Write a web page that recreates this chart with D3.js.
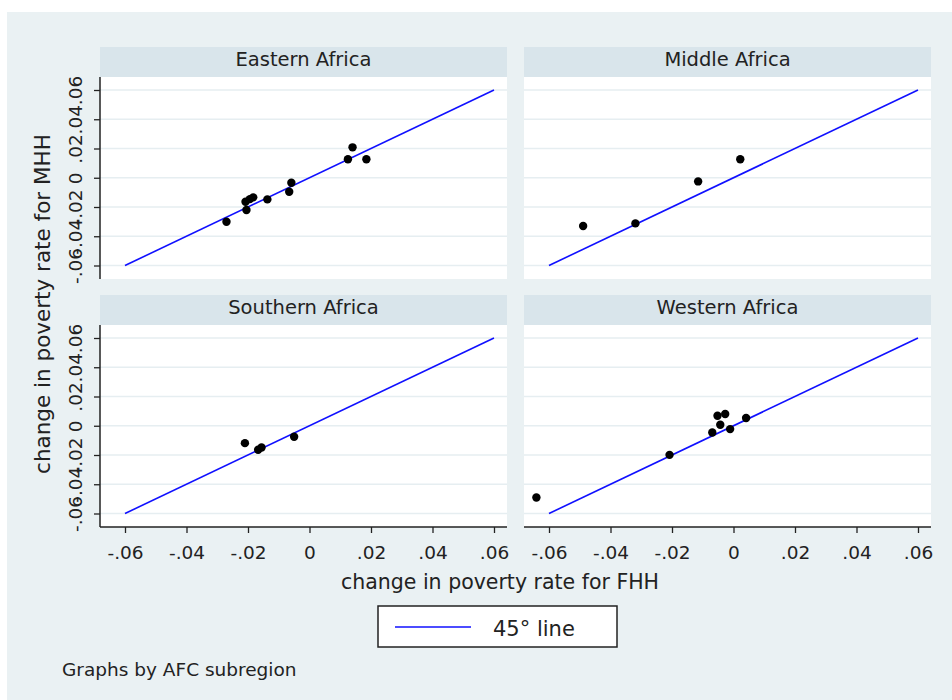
<!DOCTYPE html>
<html>
<head>
<meta charset="utf-8">
<script src="https://cdn.jsdelivr.net/npm/d3@7"></script>
<style>
  body { margin: 0; background: #fff; }
  text { font-family: "DejaVu Sans", Verdana, sans-serif; }
</style>
</head>
<body>
<svg id="chart"></svg>
<script>
// panel titles, in facet order
var regions = ["Eastern Africa", "Middle Africa", "Southern Africa", "Western Africa"];

// change in poverty rate: FHH (x) and MHH (y), one pair of arrays per region
var eastFHH = [-0.0270, -0.0205, -0.0208, -0.0194, -0.0183, -0.0137, -0.0066, -0.0059, 0.0125, 0.0140, 0.0185];
var eastMHH = [-0.0301, -0.0221, -0.0164, -0.0146, -0.0134, -0.0148, -0.0096, -0.0034, 0.0126, 0.0208, 0.0126];
var middleFHH = [-0.0489, -0.0319, -0.0115, 0.0022];
var middleMHH = [-0.0330, -0.0312, -0.0025, 0.0126];
var southFHH = [-0.0210, -0.0167, -0.0156, -0.0050];
var southMHH = [-0.0119, -0.0164, -0.0149, -0.0075];
var westFHH = [-0.0641, -0.0208, -0.0069, -0.0052, -0.0043, -0.0027, -0.0011, 0.0041];
var westMHH = [-0.0491, -0.0199, -0.0046, 0.0068, 0.0007, 0.0080, -0.0023, 0.0053];

var tickValues = [-0.06, -0.04, -0.02, 0, 0.02, 0.04, 0.06];
var tickLabels = ["-.06", "-.04", "-.02", "0", ".02", ".04", ".06"];
var lineEnds = [-0.06, 0.06];

var xs = [eastFHH, middleFHH, southFHH, westFHH];
var ys = [eastMHH, middleMHH, southMHH, westMHH];

var width = 952, height = 700;
var svg = d3.select("#chart").attr("width", width).attr("height", height);

// outer background
svg.append("rect").attr("x", 7).attr("y", 12)
  .attr("width", width - 7).attr("height", height - 12)
  .attr("fill", "#eaf1f3");

var panelW = 407, headH = 30, plotH = 202;
var colX = [100, 524];
var rowY = [47, 295];

var x = d3.scaleLinear().domain([-0.06, 0.06]).range([25, 394]);
var y = d3.scaleLinear().domain([-0.06, 0.06]).range([188.5, 13]);

var fmt = function(d) { return tickLabels[tickValues.indexOf(d)]; };

regions.forEach(function(name, i) {
  var col = i % 2, row = Math.floor(i / 2);
  var g = svg.append("g")
    .attr("transform", "translate(" + colX[col] + "," + rowY[row] + ")");

  // header strip
  g.append("rect").attr("width", panelW).attr("height", headH).attr("fill", "#d9e5eb");
  g.append("text")
    .attr("x", panelW / 2).attr("y", 19)
    .attr("text-anchor", "middle")
    .attr("font-size", 19.5).attr("fill", "#222")
    .text(name);

  var p = g.append("g").attr("transform", "translate(0," + headH + ")");
  p.append("rect").attr("width", panelW).attr("height", plotH).attr("fill", "#fff");

  // grid lines
  p.selectAll(".grid").data(tickValues).enter().append("line")
    .attr("x1", 0).attr("x2", panelW)
    .attr("y1", function(d) { return y(d); })
    .attr("y2", function(d) { return y(d); })
    .attr("stroke", "#e6eef1").attr("stroke-width", 1.5);

  // 45 degree line
  p.append("line")
    .attr("x1", x(lineEnds[0])).attr("y1", y(lineEnds[0]))
    .attr("x2", x(lineEnds[1])).attr("y2", y(lineEnds[1]))
    .attr("stroke", "#1010ff").attr("stroke-width", 1.6);

  // points
  p.selectAll(".dot").data(xs[i]).enter().append("circle")
    .attr("cx", function(d) { return x(d); })
    .attr("cy", function(d, j) { return y(ys[i][j]); })
    .attr("r", 4.2).attr("fill", "#000");

  // y axis on the left column
  if (col === 0) {
    var ya = p.append("g")
      .call(d3.axisLeft(y).tickValues(tickValues).tickFormat(fmt).tickSize(6));
    ya.select(".domain").attr("stroke", "#222").attr("stroke-width", 1.5)
      .attr("d", "M0,0V" + plotH);
    ya.selectAll(".tick line").attr("stroke", "#222").attr("stroke-width", 1.3);
    ya.selectAll(".tick text")
      .attr("font-size", 18.5).attr("fill", "#222")
      .attr("transform", "rotate(-90)")
      .attr("x", 0).attr("dy", 0).attr("y", -18)
      .attr("text-anchor", "middle")
      .style("font-family", "'DejaVu Sans', Verdana, sans-serif");
  }

  // x axis on the bottom row
  if (row === 1) {
    var xa = p.append("g").attr("transform", "translate(0," + plotH + ")")
      .call(d3.axisBottom(x).tickValues(tickValues).tickFormat(fmt).tickSize(6));
    xa.select(".domain").attr("stroke", "#222").attr("stroke-width", 1.5)
      .attr("d", "M0,0H" + panelW);
    xa.selectAll(".tick line").attr("stroke", "#222").attr("stroke-width", 1.3);
    xa.selectAll(".tick text")
      .attr("font-size", 18.5).attr("fill", "#222")
      .attr("y", 32).attr("dy", 0)
      .style("font-family", "'DejaVu Sans', Verdana, sans-serif");
  }
});

// axis titles
svg.append("text")
  .attr("transform", "translate(50,304) rotate(-90)")
  .attr("text-anchor", "middle")
  .attr("font-size", 21.5).attr("fill", "#222")
  .text("change in poverty rate for MHH");

svg.append("text")
  .attr("x", 500).attr("y", 589)
  .attr("text-anchor", "middle")
  .attr("font-size", 20.5).attr("fill", "#222")
  .text("change in poverty rate for FHH");

// legend
var lg = svg.append("g").attr("transform", "translate(378,606)");
lg.append("rect").attr("width", 239).attr("height", 41)
  .attr("fill", "#fff").attr("stroke", "#222").attr("stroke-width", 1.5);
lg.append("line").attr("x1", 17).attr("x2", 93).attr("y1", 21).attr("y2", 21)
  .attr("stroke", "#1010ff").attr("stroke-width", 1.6);
lg.append("text").attr("x", 115).attr("y", 30)
  .attr("font-size", 21).attr("fill", "#222")
  .text("45\u00b0 line");

// note
svg.append("text")
  .attr("x", 62).attr("y", 676)
  .attr("font-size", 18.5).attr("fill", "#222")
  .text("Graphs by AFC subregion");
</script>
</body>
</html>
